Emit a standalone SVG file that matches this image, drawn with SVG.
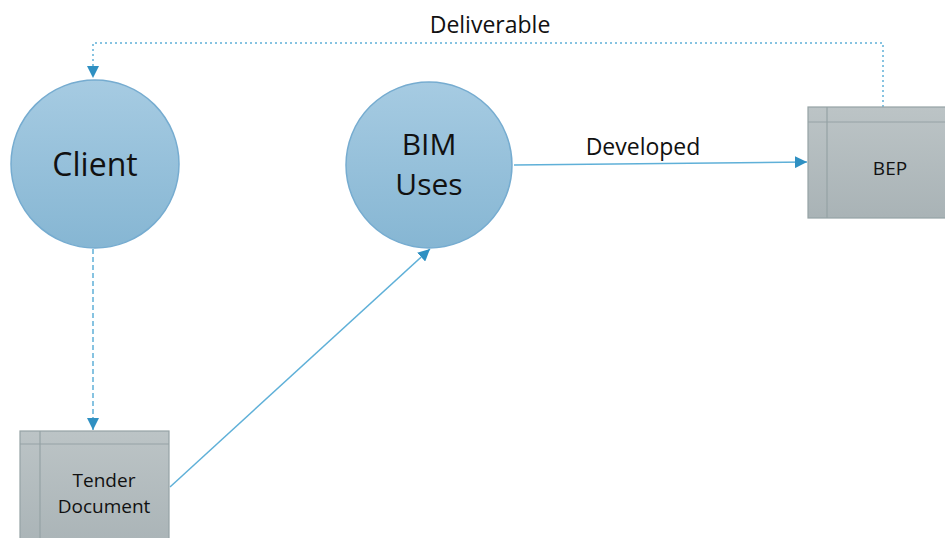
<svg xmlns="http://www.w3.org/2000/svg" width="945" height="538" viewBox="0 0 945 538">
<defs>
<linearGradient id="cg" x1="0" y1="0" x2="0" y2="1"><stop offset="0" stop-color="#a6cbe2"/><stop offset="1" stop-color="#86b6d3"/></linearGradient>
<linearGradient id="rg" x1="0" y1="0" x2="0" y2="1"><stop offset="0" stop-color="#bcc4c6"/><stop offset="1" stop-color="#a9b3b6"/></linearGradient>
<marker id="ah" viewBox="0 0 10 10" refX="10" refY="5" markerWidth="12" markerHeight="12" markerUnits="userSpaceOnUse" orient="auto"><path d="M0,0 L10,5 L0,10 Z" fill="#2f90c2"/></marker>
<style>
.circ{fill:url(#cg);stroke:#76acd0;stroke-width:1.5}
.box{fill:url(#rg);stroke:#95a2a5;stroke-width:1.2}
.inner{stroke:#95a2a5;stroke-width:1.2;fill:none}
.t{font-family:"Open Sans","Noto Sans",sans-serif;fill:#111;text-anchor:middle}
.line{stroke:#5fb0d8;stroke-width:1.5;fill:none}
.dot{stroke-dasharray:2 3}
.dash{stroke-dasharray:5 3}
</style>
</defs>
<g id="connectors">
<path class="line dot" d="M883,107 V43 H93 V78" marker-end="url(#ah)"/>
<path class="line dash" d="M93,249 V430" marker-end="url(#ah)"/>
<path class="line" d="M170,487 L430,249" marker-end="url(#ah)"/>
<path class="line" d="M514,165 L807,162" marker-end="url(#ah)"/>
<text class="t" x="490" y="33" font-size="23">Deliverable</text>
<text class="t" x="643" y="155" font-size="23">Developed</text>
</g>
<g id="client">
<circle class="circ" cx="95" cy="164" r="84"/>
<text class="t" x="95" y="176" font-size="32">Client</text>
</g>
<g id="bim">
<circle class="circ" cx="429" cy="165" r="83"/>
<text class="t" x="429" y="155" font-size="30">BIM</text>
<text class="t" x="429" y="195" font-size="30">Uses</text>
</g>
<g id="bep">
<rect class="box" x="808" y="107" width="145" height="111"/>
<path class="inner" d="M827,107 V218 M808,122 H945"/>
<text class="t" x="890" y="175" font-size="19">BEP</text>
</g>
<g id="tender">
<rect class="box" x="20" y="431" width="149" height="120"/>
<path class="inner" d="M40,431 V538 M20,444 H169"/>
<text class="t" x="104" y="487" font-size="19">Tender</text>
<text class="t" x="104" y="513" font-size="19">Document</text>
</g>
</svg>
